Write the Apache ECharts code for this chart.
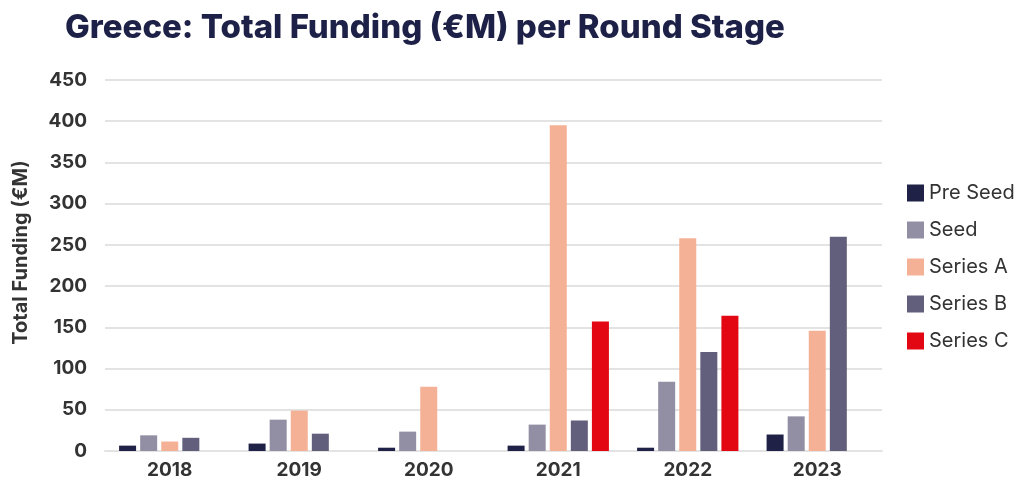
<!DOCTYPE html>
<html>
<head>
<meta charset="utf-8">
<script src="https://cdn.jsdelivr.net/npm/echarts@6/dist/echarts.min.js"></script>
<style>
  html, body { margin: 0; padding: 0; background: #fff; }
  #chart { width: 1021px; height: 488px; }
</style>
</head>
<body>
<div id="chart"></div>
<script>
// funding per round stage, €M
var years = ['2018', '2019', '2020', '2021', '2022', '2023'];
var preSeed = [6.5, 9, 4, 6.5, 4, 20];
var seed = [19, 38, 23.5, 32, 84, 42];
var seriesA = [11.5, 49, 78, 395, 258, 146];
var seriesB = [16, 21, null, 37, 120, 260];
var seriesC = [null, null, null, 157, 164, null];

var names = ['Pre Seed', 'Seed', 'Series A', 'Series B', 'Series C'];
var colors = ['#1f2246', '#928ea3', '#f5b196', '#625f7c', '#e30613'];
var values = [preSeed, seed, seriesA, seriesB, seriesC];

var myChart = echarts.init(document.getElementById('chart'));

var series = names.map(function (n, i) {
    return {
        name: n,
        type: 'bar',
        data: values[i],
        barWidth: 17,
        barGap: '24%',
        itemStyle: { color: colors[i] }
    };
});

var option = {
    animation: false,
    title: {
        text: 'Greece: Total Funding (€M) per Round Stage',
        left: 60,
        top: 7,
        textStyle: {
            fontFamily: 'Inter',
            fontWeight: 800,
            fontSize: 33,
            color: '#1e2147'
        }
    },
    legend: {
        orient: 'vertical',
        left: 902,
        top: 178,
        itemWidth: 17,
        itemHeight: 17,
        itemGap: 17,
        icon: 'rect',
        textStyle: {
            fontFamily: 'Inter',
            fontSize: 20,
            color: '#333'
        }
    },
    grid: {
        left: 105,
        right: 139,
        top: 80,
        bottom: 37
    },
    xAxis: {
        type: 'category',
        data: years,
        axisTick: { show: false },
        axisLine: { lineStyle: { color: '#e3e3e3', width: 2 } },
        axisLabel: {
            fontFamily: 'Inter',
            fontWeight: 'bold',
            fontSize: 19,
            color: '#333',
            margin: 10
        }
    },
    yAxis: {
        type: 'value',
        min: 0,
        max: 450,
        interval: 50,
        name: 'Total Funding (€M)',
        nameLocation: 'middle',
        nameGap: 74,
        nameTextStyle: {
            fontFamily: 'Inter',
            fontWeight: 'bold',
            fontSize: 20,
            color: '#333',
            padding: [0, 0, 0, 26]
        },
        axisLabel: {
            fontFamily: 'Inter',
            fontWeight: 'bold',
            fontSize: 19,
            color: '#333',
            margin: 18
        },
        splitLine: { lineStyle: { color: '#e3e3e3', width: 2 } }
    },
    series: series
};
myChart.setOption(option);
</script>
</body>
</html>
